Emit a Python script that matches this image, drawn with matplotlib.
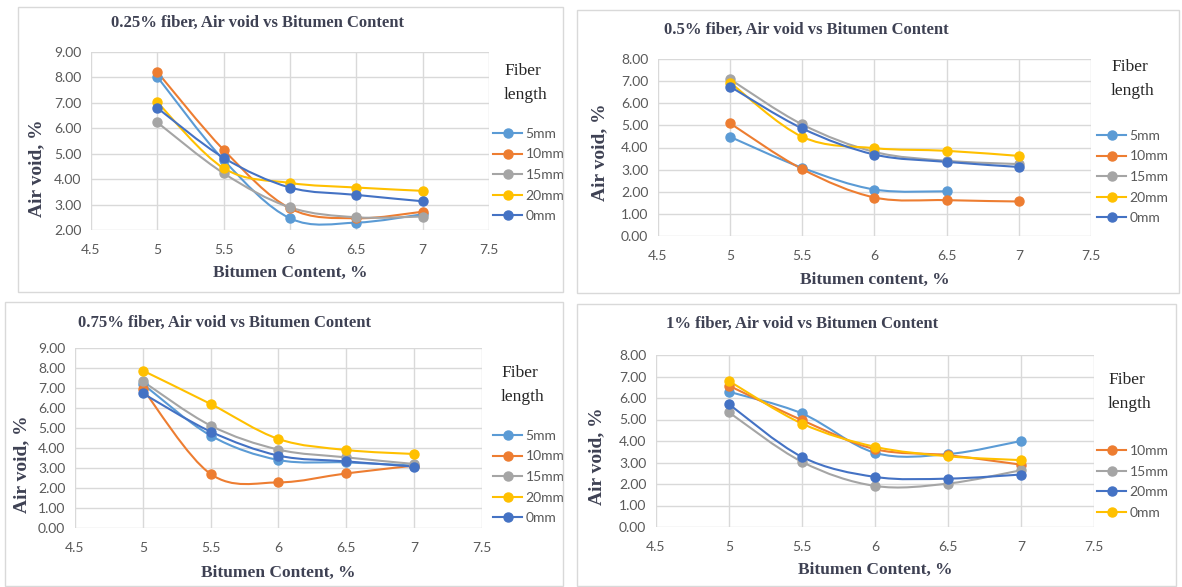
import numpy as np
import matplotlib
matplotlib.use('Agg')
import matplotlib.pyplot as plt
from matplotlib.path import Path
from matplotlib.patches import PathPatch, Rectangle
from matplotlib.lines import Line2D

# Datos (contenido de asfalto vs vacios de aire)
bitumen = [5, 5.5, 6, 6.5, 7]

# 0.25% fibra
p1_5mm = [8.02, 4.75, 2.46, 2.29, 2.62]
p1_10mm = [8.21, 5.15, 2.85, 2.46, 2.72]
p1_15mm = [6.23, 4.23, 2.89, 2.50, 2.53]
p1_20mm = [7.02, 4.43, 3.85, 3.67, 3.54]
p1_0mm = [6.80, 4.84, 3.67, 3.38, 3.13]

# 0.5% fibra
p2_5mm = [4.48, 3.08, 2.10, 2.02, np.nan]
p2_10mm = [5.09, 3.02, 1.74, 1.62, 1.56]
p2_15mm = [7.08, 5.04, 3.80, 3.40, 3.25]
p2_20mm = [6.93, 4.48, 3.97, 3.85, 3.62]
p2_0mm = [6.75, 4.86, 3.68, 3.35, 3.12]

# 0.75% fibra
p3_5mm = [7.20, 4.62, 3.40, 3.28, 3.12]
p3_10mm = [6.95, 2.70, 2.28, 2.73, 3.12]
p3_15mm = [7.33, 5.12, 3.92, 3.53, 3.20]
p3_20mm = [7.87, 6.20, 4.45, 3.90, 3.70]
p3_0mm = [6.73, 4.82, 3.62, 3.33, 3.07]

# 1% fibra
p4_5mm = [6.29, 5.28, 3.45, 3.39, 4.00]
p4_10mm = [6.57, 4.97, 3.62, 3.34, 2.90]
p4_15mm = [5.33, 3.03, 1.91, 2.02, 2.64]
p4_20mm = [5.71, 3.26, 2.33, 2.25, 2.44]
p4_0mm = [6.79, 4.81, 3.73, 3.29, 3.11]

azul_cl = '#5B9BD5'
naranja = '#ED7D31'
gris = '#A5A5A5'
amarillo = '#FFC000'
azul = '#4472C4'

W, H = 1182, 587
fig = plt.figure(figsize=(W / 100, H / 100), dpi=100)

serif = ['Liberation Serif', 'DejaVu Serif']
sans = ['Lato', 'DejaVu Sans']
txt_color = '#3E4153'


def fx(x):
    return x / W


def fy(y):
    return 1 - y / H


def curva(ax, xs, ys, color):
    # linea suavizada tipo Excel (bezier cubica a partir de los puntos)
    pts = np.array([(a, b) for a, b in zip(xs, ys) if np.isfinite(b)])
    n = len(pts)
    ext = np.vstack([pts[0], pts, pts[-1]])
    verts = [pts[0]]
    for i in range(n - 1):
        p_prev, p0, p1, p_next = ext[i], ext[i + 1], ext[i + 2], ext[i + 3]
        verts += [p0 + (p1 - p_prev) / 6, p1 - (p_next - p0) / 6, p1]
    codes = [Path.MOVETO] + [Path.CURVE4] * (3 * (n - 1))
    ax.add_patch(PathPatch(Path(verts, codes), fill=False, edgecolor=color,
                           lw=1.5, zorder=3, capstyle='round'))
    ax.plot(pts[:, 0], pts[:, 1], 'o', color=color, ms=6.5, zorder=4)


def panel(box, area, series, ymin, ymax, titulo, xlab, ylab_pos, tit_pos, xlab_y,
          fiber_pos, leg_pos, leg_items):
    bx0, by0, bx1, by1 = box
    fig.patches.append(Rectangle((fx(bx0), fy(by1)), fx(bx1 - bx0), (by1 - by0) / H,
                                 transform=fig.transFigure, fill=False,
                                 edgecolor='#D9D9D9', lw=1))
    l, t, r, b = area
    ax = fig.add_axes([fx(l), fy(b), fx(r - l), (b - t) / H])
    for ys, c in series:
        curva(ax, bitumen, ys, c)
    ax.set_xlim(4.5, 7.5)
    ax.set_ylim(ymin, ymax)
    ax.set_xticks(np.arange(4.5, 7.51, 0.5))
    ax.set_xticklabels(['4.5', '5', '5.5', '6', '6.5', '7', '7.5'])
    ax.set_yticks(np.arange(ymin, ymax + 0.1, 1))
    ax.set_yticklabels(['%.2f' % v for v in np.arange(ymin, ymax + 0.1, 1)])
    ax.grid(True, color='#D9D9D9', lw=1)
    ax.set_axisbelow(True)
    for s in ax.spines.values():
        s.set_visible(False)
    ax.tick_params(length=0, colors='#595959', labelsize=10)
    ax.tick_params(axis='y', pad=7)
    ax.tick_params(axis='x', pad=10)
    for lab in ax.get_xticklabels() + ax.get_yticklabels():
        lab.set_family(sans)

    fig.text(fx(tit_pos[0]), fy(tit_pos[1]), titulo, ha='left', va='center',
             family=serif, weight='bold', fontsize=12, color=txt_color)
    fig.text(fx(ylab_pos[0]), fy(ylab_pos[1]), 'Air void, %', rotation=90,
             ha='center', va='center', family=serif, weight='bold',
             fontsize=14, color=txt_color)
    fig.text(fx((l + r) / 2), fy(xlab_y), xlab, ha='center', va='center',
             family=serif, weight='bold', fontsize=12.5, color=txt_color)
    fig.text(fx(fiber_pos[0]), fy(fiber_pos[1]), 'Fiber', ha='left', va='center',
             family=serif, fontsize=12.5, color='#262626')
    fig.text(fx(fiber_pos[0]), fy(fiber_pos[1] + 24), 'length', ha='left',
             va='center', family=serif, fontsize=12.5, color='#262626')

    handles = [Line2D([], [], color=c, lw=1.5, marker='o', ms=6.5) for c, _ in leg_items]
    leg = ax.legend(handles, [n for _, n in leg_items], loc='center left',
                    bbox_to_anchor=(fx(leg_pos[0]), fy(leg_pos[1])),
                    bbox_transform=fig.transFigure, frameon=False, borderpad=0,
                    borderaxespad=0, handlelength=2.1, handletextpad=0.25,
                    labelspacing=0.62, prop={'family': sans, 'size': 10})
    for tx in leg.get_texts():
        tx.set_color('#595959')
    return ax


leyenda5 = [(azul_cl, '5mm'), (naranja, '10mm'), (gris, '15mm'),
            (amarillo, '20mm'), (azul, '0mm')]

panel((18, 7, 563, 292), (91, 52, 489, 230),
      [(p1_5mm, azul_cl), (p1_10mm, naranja), (p1_15mm, gris),
       (p1_20mm, amarillo), (p1_0mm, azul)],
      2, 9, '0.25% fiber, Air void vs Bitumen Content', 'Bitumen Content, %',
      (37, 168), (111, 23), 273, (504, 71), (493, 175), leyenda5)

panel((577, 10, 1179, 293), (658, 59, 1091, 236),
      [(p2_5mm, azul_cl), (p2_10mm, naranja), (p2_15mm, gris),
       (p2_20mm, amarillo), (p2_0mm, azul)],
      0, 8, '0.5% fiber, Air void vs Bitumen Content', 'Bitumen content, %',
      (600, 152), (664, 30), 280, (1111, 67), (1097, 177), leyenda5)

panel((5, 302, 563, 586), (75, 348, 482, 528),
      [(p3_5mm, azul_cl), (p3_10mm, naranja), (p3_15mm, gris),
       (p3_20mm, amarillo), (p3_0mm, azul)],
      0, 9, '0.75% fiber, Air void vs Bitumen Content', 'Bitumen Content, %',
      (22, 464), (78, 323), 573, (501, 373), (493, 477), leyenda5)

panel((577, 304, 1176, 586), (656, 355, 1094, 527),
      [(p4_5mm, azul_cl), (p4_10mm, naranja), (p4_15mm, gris),
       (p4_20mm, azul), (p4_0mm, amarillo)],
      0, 8, '1% fiber, Air void vs Bitumen Content', 'Bitumen Content, %',
      (597, 456), (666, 324), 570, (1108, 380), (1097, 482),
      [(naranja, '10mm'), (gris, '15mm'), (azul, '20mm'), (amarillo, '0mm')])

fig.savefig('out.png', dpi=100)
